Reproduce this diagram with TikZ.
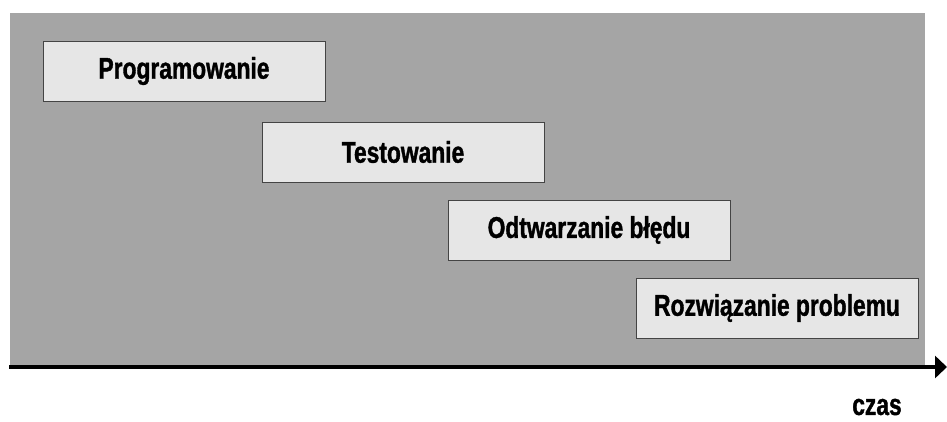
\documentclass[tikz,border=0pt]{standalone}
\usepackage{fontspec}
\setmainfont[FakeStretch=0.76,FakeBold=1.2]{Liberation Sans}
\usetikzlibrary{arrows.meta}
\definecolor{bggray}{HTML}{A5A5A5}
\definecolor{boxfill}{HTML}{E6E6E6}
\definecolor{boxline}{HTML}{444444}
\begin{document}
\begin{tikzpicture}[x=1pt,y=-1pt,
  stepbox/.style={draw=boxline,line width=1pt,fill=boxfill,minimum width=282pt,minimum height=60pt,inner sep=0pt,
    font=\fontsize{30}{32}\selectfont\bfseries,anchor=north west},
  lbl/.style={font=\fontsize{30}{32}\selectfont\bfseries}]
\useasboundingbox (0,0) rectangle (947,421);
\fill[bggray] (10,13) rectangle (925,367);
\node[stepbox] (p1) at (42.5,40.5) {Programowanie};
\node[stepbox] (p2) at (261.5,121.5) {Testowanie};
\node[stepbox] (p3) at (447.5,199.5) {Odtwarzanie błędu};
\node[stepbox] (p4) at (635.5,277.5) {Rozwiązanie problemu};
\coordinate (a0) at (9,367);
\coordinate (a1) at (947,367);
\draw[line width=4pt,-{Triangle[length=12pt,width=22pt]}] (a0) -- (a1);
\node[lbl] (czas) at (877,407) {czas};
\end{tikzpicture}
\end{document}
